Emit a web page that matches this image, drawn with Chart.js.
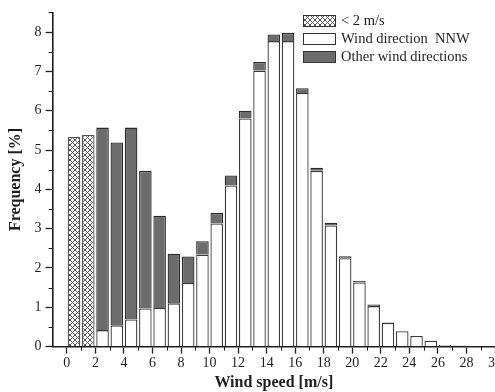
<!DOCTYPE html>
<html>
<head>
<meta charset="UTF-8">
<title>Wind speed frequency</title>
<script src="https://cdn.jsdelivr.net/npm/chart.js"></script>
<style>
  body { margin: 0; overflow: hidden; background: #fff; }
  #wrap { position: absolute; left: 0; top: 0; width: 503px; height: 392px; }
</style>
</head>
<body>
<div id="wrap"><canvas id="myChart"></canvas></div>
<script>
  // wind speed bins 0-1, 1-2, ... 29-30 m/s
  const binStart = [0,1,2,3,4,5,6,7,8,9,10,11,12,13,14,15,16,17,18,19,20,21,22,23,24,25,26,27,28,29];
  const calm  = [5.33, 5.38];   // < 2 m/s, only the first two bins
  const nnw   = [null, null, 0.42, 0.54, 0.69, 0.97, 0.98, 1.10, 1.62, 2.34, 3.13, 4.10, 5.80, 7.02, 7.77, 7.77,
                 6.45, 4.47, 3.08, 2.25, 1.63, 1.03, 0.60, 0.39, 0.27, 0.15, 0.04, 0.03, 0.01, 0];
  const other = [null, null, 5.15, 4.65, 4.88, 3.50, 2.35, 1.26, 0.67, 0.34, 0.27, 0.25, 0.20, 0.22, 0.17, 0.21,
                 0.12, 0.08, 0.07, 0.05, 0.04, 0.04, 0.01, 0, 0, 0, 0, 0, 0, 0];
  const xTicks = [0,2,4,6,8,10,12,14,16,18,20,22,24,26,28,30];
  const yTicks = [0,1,2,3,4,5,6,7,8];
  const seriesNames = ['< 2 m/s', 'Wind direction  NNW', 'Other wind directions'];

  const serif = '"Liberation Serif", "DejaVu Serif", serif';
  const ink = '#1e1e1e';

  function hatch() {
    const c = document.createElement('canvas');
    c.width = 5; c.height = 5;
    const g = c.getContext('2d');
    g.fillStyle = '#fff';
    g.fillRect(0, 0, 5, 5);
    g.strokeStyle = '#555';
    g.lineWidth = 1;
    g.beginPath();
    g.moveTo(0, 0); g.lineTo(5, 5);
    g.moveTo(5, 0); g.lineTo(0, 5);
    g.stroke();
    return g.createPattern(c, 'repeat');
  }

  const points = arr => binStart.map((b, i) => ({ x: b + 0.5, y: arr[i] === undefined ? null : arr[i] }));

  // small ticks between the labelled ones
  const minorTicks = {
    id: 'minorTicks',
    afterDraw(chart) {
      const ctx = chart.ctx, xs = chart.scales.x, ys = chart.scales.y;
      ctx.save();
      ctx.strokeStyle = ink;
      ctx.lineWidth = 1;
      ctx.beginPath();
      for (let v = 0.5; v <= 8.5; v += 1) {
        const py = Math.round(ys.getPixelForValue(v)) + 0.5;
        ctx.moveTo(xs.left - 4, py); ctx.lineTo(xs.left, py);
      }
      for (let v = 1; v < 30; v += 2) {
        const px = Math.round(xs.getPixelForValue(v)) + 0.5;
        ctx.moveTo(px, ys.bottom); ctx.lineTo(px, ys.bottom + 4);
      }
      ctx.stroke();
      ctx.restore();
    }
  };

  const boxLegend = {
    id: 'boxLegend',
    afterDraw(chart) {
      const ctx = chart.ctx;
      ctx.save();
      ctx.font = '14.5px ' + serif;
      ctx.textBaseline = 'middle';
      chart.data.datasets.forEach((ds, i) => {
        const y = 15 + i * 18;
        ctx.fillStyle = ds.backgroundColor;
        ctx.fillRect(303, y, 32, 11);
        ctx.strokeStyle = '#333';
        ctx.lineWidth = 1;
        ctx.strokeRect(303.5, y + 0.5, 32, 11);
        ctx.fillStyle = ink;
        ctx.fillText(ds.label, 341, y + 6);
      });
      ctx.restore();
    }
  };

  const config = {
    type: 'bar',
    data: {
      datasets: [
        { label: seriesNames[0], data: points(calm), backgroundColor: hatch(), borderColor: '#555', borderWidth: 1.3 },
        { label: seriesNames[1], data: points(nnw), backgroundColor: '#fff', borderColor: '#3a3a3a', borderWidth: 1.3 },
        { label: seriesNames[2], data: points(other), backgroundColor: '#6c6c6c', borderColor: '#2a2a2a', borderWidth: 1.3 }
      ]
    },
    options: {
      responsive: true,
      maintainAspectRatio: false,
      animation: false,
      barPercentage: 0.88,
      categoryPercentage: 1,
      layout: { padding: { left: 7, top: 10, right: 0, bottom: 0 } },
      plugins: { legend: { display: false }, tooltip: { enabled: false } },
      scales: {
        x: {
          type: 'linear', min: -1, max: 30, stacked: true, offset: false,
          afterBuildTicks: s => { s.ticks = xTicks.map(v => ({ value: v })); },
          grid: { drawOnChartArea: false, offset: false, tickLength: 7, tickColor: ink, tickWidth: 1.3 },
          border: { color: ink, width: 1.6 },
          ticks: { color: ink, font: { family: serif, size: 14 }, maxRotation: 0, padding: 1 },
          title: { display: true, text: 'Wind speed [m/s]', color: ink,
                   font: { family: serif, size: 16, weight: 'bold', lineHeight: 1.1 }, padding: { top: 2, bottom: 0 } }
        },
        y: {
          min: 0, max: 8.5, stacked: true,
          afterBuildTicks: s => { s.ticks = yTicks.map(v => ({ value: v })); },
          grid: { drawOnChartArea: false, tickLength: 7, tickColor: ink, tickWidth: 1.3 },
          border: { color: ink, width: 1.6 },
          ticks: { color: ink, font: { family: serif, size: 14 }, padding: 4 },
          title: { display: true, text: 'Frequency [%]', color: ink,
                   font: { family: serif, size: 16, weight: 'bold', lineHeight: 1.1 }, padding: { top: 0, bottom: 6 } }
        }
      }
    },
    plugins: [minorTicks, boxLegend]
  };

  new Chart(document.getElementById('myChart'), config);
</script>
</body>
</html>
